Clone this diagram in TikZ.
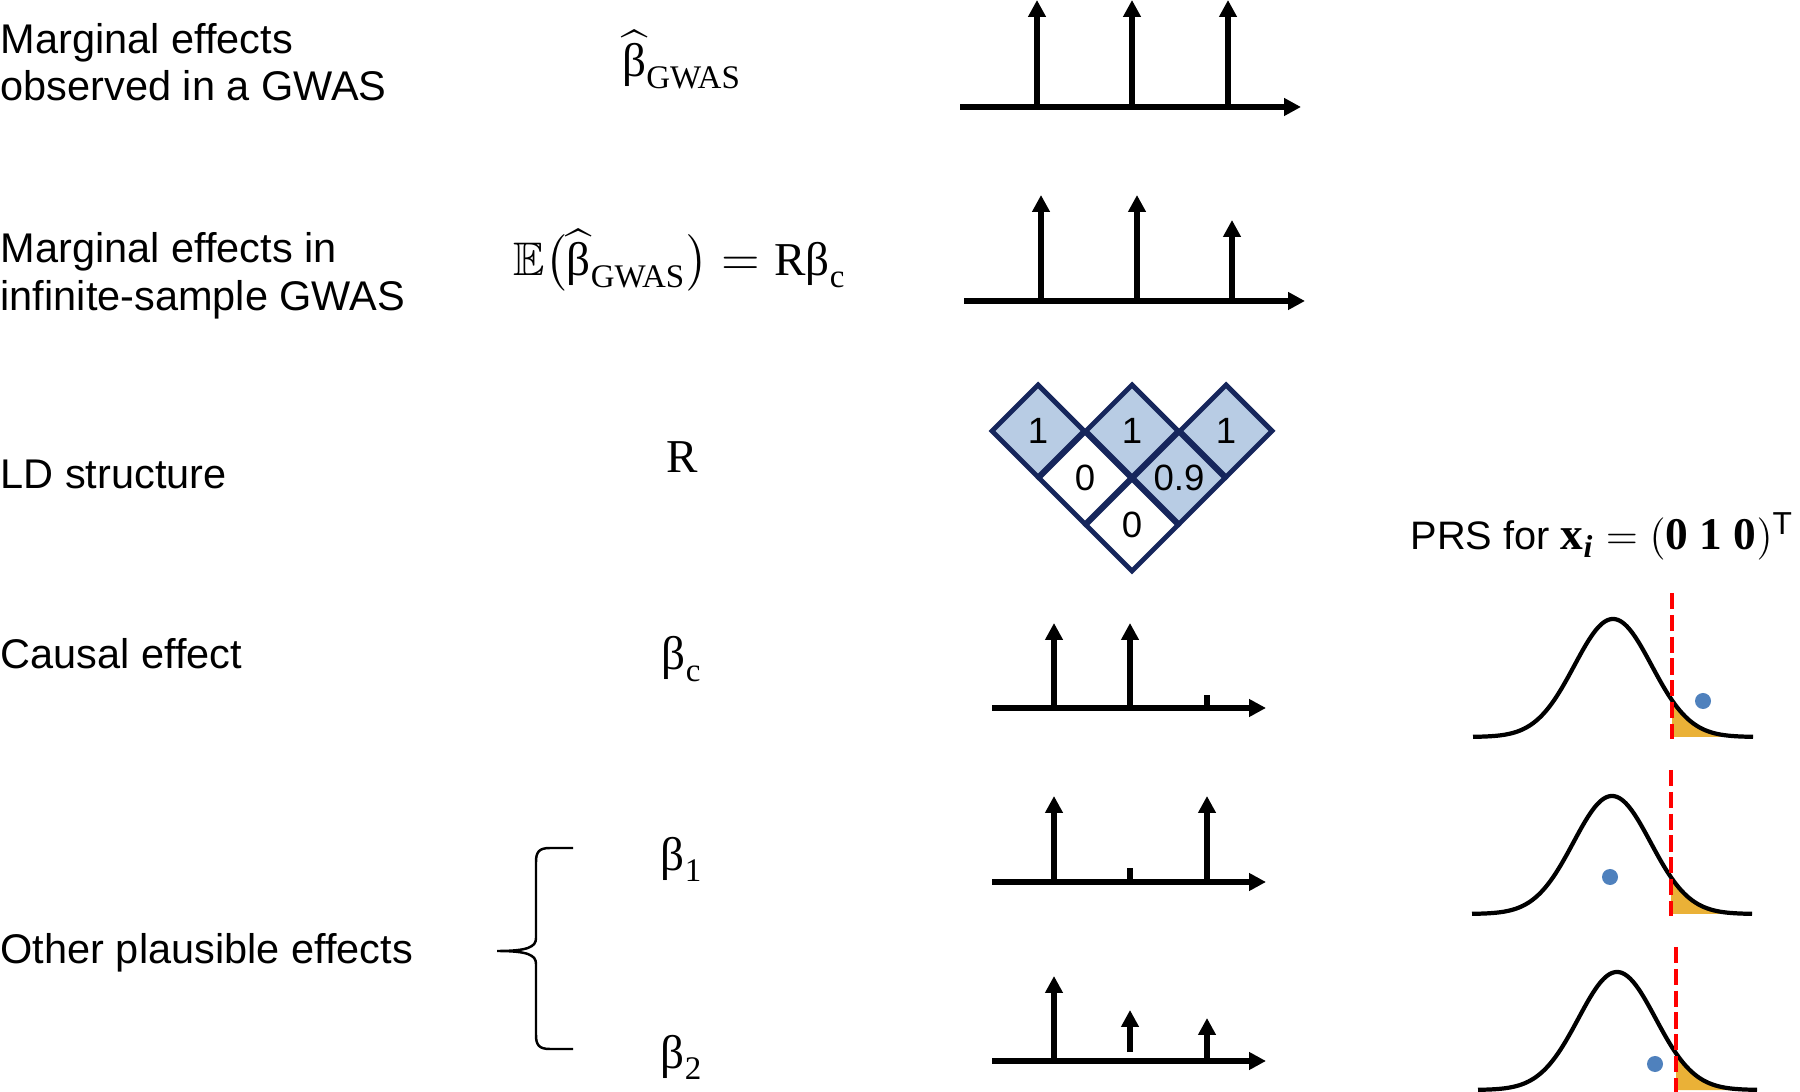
\documentclass[tikz,border=0pt]{standalone}
\usepackage{amsmath,amssymb}
\usepackage{fontspec}
\setmainfont{Liberation Sans}
\newfontfamily\mserif{Liberation Serif}
\usetikzlibrary{arrows.meta,shapes.geometric}
\newcommand{\gb}{\text{\mserif β}}
\newcommand{\gs}[1]{\text{\mserif #1}}
\definecolor{ldnavy}{RGB}{22,38,92}
\definecolor{ldblue}{RGB}{184,204,228}
\definecolor{prsgold}{RGB}{234,177,55}
\definecolor{dotblue}{RGB}{79,129,189}
\definecolor{prsred}{RGB}{255,0,0}
\tikzset{
  lbl/.style={anchor=base west,inner sep=0pt,font=\fontsize{11.8pt}{14pt}\selectfont},
  mlbl/.style={anchor=base,inner sep=0pt,font=\fontsize{13.4pt}{15pt}\selectfont},
  axisline/.style={line width=1.7pt,-{Triangle[length=4.8pt,width=4.8pt]}},
  stemarrow/.style={line width=1.7pt,-{Triangle[length=4.8pt,width=4.8pt]}},
  stemstub/.style={line width=1.7pt},
  ldcell/.style={shape=diamond,draw=ldnavy,line width=1.4pt,minimum width=0.94cm,minimum height=0.94cm,inner sep=0pt,aspect=1,font=\fontsize{10.4pt}{11pt}\selectfont},
  bellline/.style={line width=1.2pt,black},
  reddash/.style={line width=1.3pt,prsred,dash pattern=on 4.6pt off 1.6pt},
  prsdot/.style={circle,fill=dotblue,minimum size=0.16cm,inner sep=0pt},
  bracepath/.style={line width=0.7pt,black}
}
% #1 peak x, #2 base y, #3 left x, #4 right x, #5 red top y, #6 name
\newcommand{\prsbell}[6]{%
  \fill[prsgold] ({#1+59},#2) -- plot[domain={#1+59}:#4,samples=40] (\x,{#2-118*exp(-0.5*((\x-#1)/38.6)^2)}) -- (#4,#2) -- cycle;
  \draw[bellline] plot[domain=#3:#4,samples=150] (\x,{#2-118*exp(-0.5*((\x-#1)/38.6)^2)});
  \coordinate (#6top) at ({#1+59},#5);
  \coordinate (#6bot) at ({#1+59},{#2+2});
  \draw[reddash] (#6top) -- (#6bot);
}
\begin{document}
\begin{tikzpicture}[x=0.01cm,y=-0.01cm]
\useasboundingbox (0,0) rectangle (1800,1092);
% left labels
\node[lbl] (t1a) at (0,54) {Marginal effects};
\node[lbl] (t1b) at (0,101) {observed in a GWAS};
\node[lbl] (t2a) at (0,263) {Marginal effects in};
\node[lbl] (t2b) at (0,311) {infinite-sample GWAS};
\node[lbl] (t3) at (0,489) {LD structure};
\node[lbl] (t4) at (0,669) {Causal effect};
\node[lbl] (t5) at (0,963) {Other plausible effects};
% math labels
\node[mlbl] (m1) at (682,77) {$\widehat{\gb}_{\gs{GWAS}}$};
\node[mlbl] (m2) at (680,276) {$\mathbb{E}\bigl(\widehat{\gb}_{\gs{GWAS}}\bigr) = \gs{R}\gb_{\gs{c}}$};
\node[mlbl] (m3) at (682,473) {$\gs{R}$};
\node[mlbl] (m4) at (682,670) {$\gb_{\gs{c}}$};
\node[mlbl] (m5) at (682,870) {$\gb_{\gs{1}}$};
\node[mlbl] (m6) at (682,1068) {$\gb_{\gs{2}}$};
% brace
\coordinate (brtop) at (573,848);
\coordinate (brtip) at (497,951);
\coordinate (brbot) at (573,1049);
\draw[bracepath] (brtop) -- (550,848) .. controls (539,848) and (536,852) .. (536,862) -- (536,938)
  .. controls (536,947) and (528,951) .. (brtip)
  .. controls (528,951) and (536,955) .. (536,964) -- (536,1035)
  .. controls (536,1045) and (539,1049) .. (550,1049) -- (brbot);
% row 1
\coordinate (a1s) at (960,107); \coordinate (a1e) at (1301,107);
\draw[axisline] (a1s) -- (a1e);
\foreach \sx/\ty in {1037/0,1132/0,1228/0}{\draw[stemarrow] (\sx,107) -- (\sx,\ty);}
% row 2
\coordinate (a2s) at (964,301); \coordinate (a2e) at (1305,301);
\draw[axisline] (a2s) -- (a2e);
\foreach \sx/\ty in {1041/195,1137/195,1232/220}{\draw[stemarrow] (\sx,301) -- (\sx,\ty);}
% LD diamonds
\node[ldcell,fill=white] (d21) at (1085,478) {0};
\node[ldcell,fill=white] (d31) at (1132,525) {0};
\node[ldcell,fill=ldblue] (d22) at (1179,478) {0.9};
\node[ldcell,fill=ldblue] (d11) at (1038,431) {1};
\node[ldcell,fill=ldblue] (d12) at (1132,431) {1};
\node[ldcell,fill=ldblue] (d13) at (1226,431) {1};
% row 4 causal
\coordinate (a4s) at (992,708); \coordinate (a4e) at (1266,708);
\draw[axisline] (a4s) -- (a4e);
\draw[stemarrow] (1054,708) -- (1054,623);
\draw[stemarrow] (1130,708) -- (1130,623);
\draw[stemstub] (1207,708) -- (1207,695);
% row 5
\coordinate (a5s) at (992,882); \coordinate (a5e) at (1266,882);
\draw[axisline] (a5s) -- (a5e);
\draw[stemarrow] (1054,882) -- (1054,796);
\draw[stemstub] (1130,882) -- (1130,868);
\draw[stemarrow] (1207,882) -- (1207,796);
% row 6
\coordinate (a6s) at (992,1061); \coordinate (a6e) at (1266,1061);
\draw[axisline] (a6s) -- (a6e);
\draw[stemarrow] (1054,1061) -- (1054,976);
\draw[stemarrow] (1130,1052) -- (1130,1010);
\draw[stemarrow] (1207,1061) -- (1207,1018);
% PRS title
\node[lbl] (prs) at (1410,550) {\fontsize{11.3pt}{13pt}\selectfont PRS for {\fontsize{12.9pt}{14pt}\selectfont$\text{\mserif\bfseries x}_{\text{\mserif\bfseries\itshape i}} = (\text{\mserif\bfseries 0 1 0})^{\text{T}}$}};
% bells
\prsbell{1613}{737}{1473}{1753}{593}{r1}
\node[prsdot] (dot1) at (1703,701) {};
\prsbell{1612}{914}{1472}{1752}{770}{r2}
\node[prsdot] (dot2) at (1610,877) {};
\prsbell{1617}{1090}{1478}{1757}{947}{r3}
\node[prsdot] (dot3) at (1655,1064) {};
\end{tikzpicture}
\end{document}
